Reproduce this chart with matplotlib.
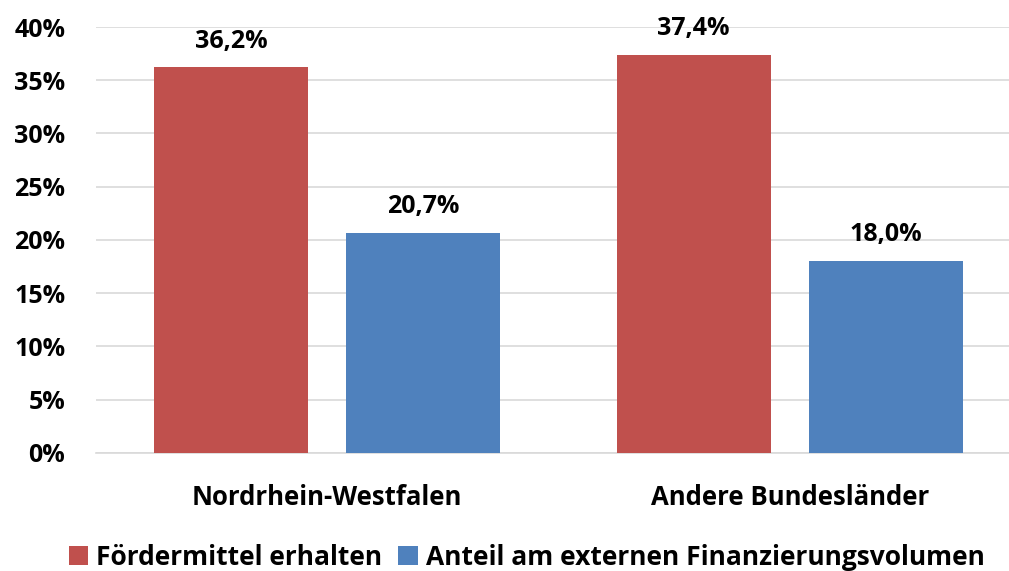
import numpy as np
import matplotlib
matplotlib.use("Agg")
import matplotlib.pyplot as plt

# chart data
categories = ["Nordrhein-Westfalen", "Andere Bundesländer"]
foerdermittel = [36.2, 37.4]
anteil_extern = [20.7, 18.0]
series_names = ["Fördermittel erhalten", "Anteil am externen Finanzierungsvolumen"]
y_ticks = [0, 5, 10, 15, 20, 25, 30, 35, 40]

RED = "#C0504D"
BLUE = "#4F81BD"

plt.rcParams["font.family"] = ["Open Sans", "DejaVu Sans"]
plt.rcParams["font.weight"] = "bold"

fig = plt.figure(figsize=(10.09, 5.71), dpi=100)
ax = fig.add_axes([0.095, 0.2067, 0.917, 0.746])

x = np.arange(len(categories))
w = 0.333
off = 0.208
b1 = ax.bar(x - off, foerdermittel, w, color=RED, label=series_names[0], zorder=3)
b2 = ax.bar(x + off, anteil_extern, w, color=BLUE, label=series_names[1], zorder=3)

for bars, vals in [(b1, foerdermittel), (b2, anteil_extern)]:
    for r, v in zip(bars, vals):
        ax.text(r.get_x() + r.get_width() / 2, v + 1.3, f"{v:.1f}%".replace(".", ","),
                ha="center", va="bottom", fontsize=18, fontweight="bold")

ax.set_xlim(-0.5, 1.5)
ax.set_ylim(0, 40)
ax.set_yticks(y_ticks)
ax.set_yticklabels([f"{t}%" for t in y_ticks], fontsize=18, fontweight="bold")
ax.set_xticks(x)
ax.set_xticklabels(categories, fontsize=18.5, fontweight="bold")
ax.tick_params(axis="both", length=0)
ax.tick_params(axis="y", pad=22)
ax.tick_params(axis="x", pad=22)
ax.yaxis.grid(True, color="#D9D9D9", linewidth=1.2, zorder=0)
for s in ["top", "right", "left"]:
    ax.spines[s].set_visible(False)
ax.spines["bottom"].set_color("#D9D9D9")
ax.spines["bottom"].set_linewidth(1.2)

fig.legend(handles=[b1, b2], loc="center", bbox_to_anchor=(0.522, 0.024), ncol=2,
           frameon=False, handlelength=0.75, handleheight=0.75,
           handletextpad=0.3, columnspacing=0.6, prop={"weight": "bold", "size": 19})

fig.savefig("out.png", dpi=100)
